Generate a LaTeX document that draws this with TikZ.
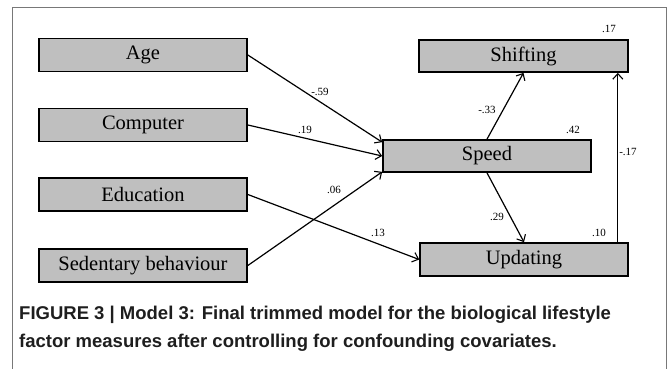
\documentclass[tikz,border=0pt]{standalone}
\usepackage{fontspec}
\setmainfont{Liberation Serif}
\newfontfamily\capfont{Liberation Sans}
\usetikzlibrary{arrows.meta,calc}
\definecolor{boxgray}{RGB}{191,191,191}
\definecolor{framegray}{RGB}{120,120,120}
\definecolor{captext}{RGB}{30,30,30}
\tikzset{
  varbox/.style={draw=black, line width=1.7pt, fill=boxgray, minimum width=208pt, minimum height=33pt, inner sep=0pt, font=\fontsize{20.5}{22}\selectfont},
  path/.style={draw=black, line width=1.2pt, -{Straight Barb[length=5.5pt,width=10pt,line width=1.1pt]}},
  coef/.style={inner sep=0pt, font=\fontsize{11}{12}\selectfont}
}
\begin{document}
\begin{tikzpicture}[x=1pt,y=-1pt]
\useasboundingbox (0,0) rectangle (667,369);
\draw[framegray, line width=1pt] (12,369) -- (12,8) -- (666,8) -- (666,369);

\node[varbox] (age) at (143,55) {Age};
\node[varbox] (comp) at (143,125) {Computer};
\node[varbox] (edu) at (143,194.5) {Education};
\node[varbox] (sed) at (143,265.5) {Sedentary behaviour};
\node[varbox, minimum width=209pt, minimum height=32pt] (shift) at (523.5,56) {Shifting};
\node[varbox, minimum height=32pt] (speed) at (487,156) {Speed};
\node[varbox] (upd) at (524,259.5) {Updating};

\coordinate (sa) at ($(speed.north west)+(0,3)$);
\coordinate (ss) at ($(speed.south west)+(0,-1)$);
\coordinate (u1) at ($(upd.north east)+(-11,0)$);
\coordinate (s1) at ($(shift.south east)+(-11,0)$);

\draw[path] (age.east) -- (sa);
\draw[path] (comp.east) -- (speed.west);
\draw[path] (sed.east) -- (ss);
\draw[path] (edu.east) -- (upd.west);
\draw[path] (speed.north) -- (shift.south);
\draw[path] (speed.south) -- (upd.north);
\draw[path] (u1) -- (s1);

\node[coef] (l59) at (320,92) {-.59};
\node[coef] (l19) at (305,130) {.19};
\node[coef] (l06) at (334,190) {.06};
\node[coef] (l13) at (378,233) {.13};
\node[coef] (l33) at (487,110) {-.33};
\node[coef] (l42) at (573,130) {.42};
\node[coef] (l17b) at (628,152) {-.17};
\node[coef] (l29) at (497,217) {.29};
\node[coef] (l10) at (599,233) {.10};
\node[coef] (l17) at (609,29) {.17};

\node[anchor=base west, inner sep=0pt, text=captext, font=\capfont\bfseries\fontsize{18.5}{20}\selectfont] (cap1) at (19,319) {FIGURE 3 | Model 3: Final trimmed model for the biological lifestyle};
\node[anchor=base west, inner sep=0pt, text=captext, font=\capfont\bfseries\fontsize{18.5}{20}\selectfont] (cap2) at (19,347) {factor measures after controlling for confounding covariates.};
\end{tikzpicture}
\end{document}
